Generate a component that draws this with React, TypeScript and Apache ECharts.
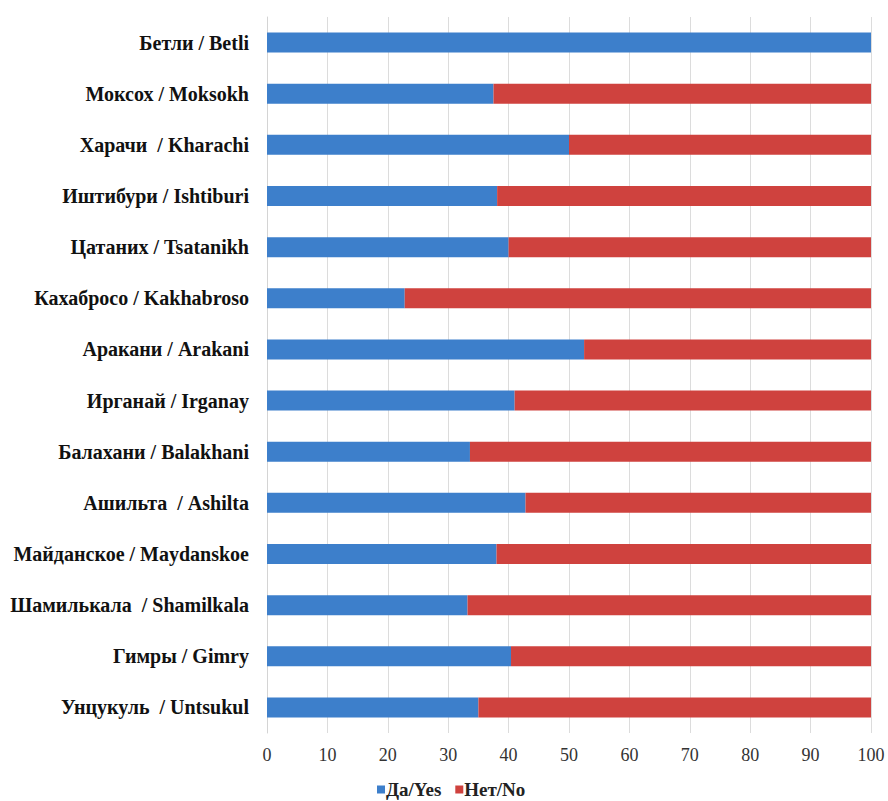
import React, { useEffect, useRef } from "react";
import * as echarts from "echarts";

const categories = [
  "Бетли / Betli",
  "Моксох / Moksokh",
  "Харачи  / Kharachi",
  "Иштибури / Ishtiburi",
  "Цатаних / Tsatanikh",
  "Кахабросо / Kakhabroso",
  "Аракани / Arakani",
  "Ирганай / Irganay",
  "Балахани / Balakhani",
  "Ашильта  / Ashilta",
  "Майданское / Maydanskoe",
  "Шамилькала  / Shamilkala",
  "Гимры / Gimry",
  "Унцукуль  / Untsukul",
];

const yesValues = [100, 37.5, 50, 38.1, 40, 22.8, 52.5, 41, 33.6, 42.8, 38, 33.2, 40.4, 35];
const noValues = [0, 62.5, 50, 61.9, 60, 77.2, 47.5, 59, 66.4, 57.2, 62, 66.8, 59.6, 65];

const seriesNames = ["Да/Yes", "Нет/No"];
const xTicks = { min: 0, max: 100, interval: 10 };

export default function App() {
  const ref = useRef<HTMLDivElement>(null);
  useEffect(() => {
    if (!ref.current) return;
    const chart = echarts.init(ref.current, null, { renderer: "svg" });
    const font = "Liberation Serif";
    chart.setOption({
      animation: false,
      backgroundColor: "#ffffff",
      grid: { left: 267, right: 17, top: 17, bottom: 68, containLabel: false },
      legend: {
        data: seriesNames,
        left: 377,
        top: 780,
        padding: 0,
        icon: "rect",
        itemWidth: 8,
        itemHeight: 8,
        itemGap: 14,
        textStyle: { fontFamily: font, fontWeight: "bold", fontSize: 19, color: "#222222", padding: [0, 0, 0, -4] },
      },
      xAxis: {
        type: "value",
        min: xTicks.min,
        max: xTicks.max,
        interval: xTicks.interval,
        axisLine: { show: false },
        axisTick: { show: false },
        splitLine: { show: true, lineStyle: { color: "#dcdcdc", width: 1 } },
        axisLabel: { fontFamily: font, fontSize: 18, color: "#333333", margin: 13 },
      },
      yAxis: {
        type: "category",
        data: categories,
        inverse: true,
        axisLine: { show: true, lineStyle: { color: "#d4d4d4", width: 1 } },
        axisTick: { show: false },
        axisLabel: { fontFamily: font, fontWeight: "bold", fontSize: 20, color: "#111111", margin: 18 },
      },
      series: [
        {
          name: seriesNames[0],
          type: "bar",
          stack: "total",
          data: yesValues,
          barWidth: 20,
          itemStyle: { color: "#3d7fcb" },
        },
        {
          name: seriesNames[1],
          type: "bar",
          stack: "total",
          data: noValues,
          barWidth: 20,
          itemStyle: { color: "#cf423e" },
        },
      ],
    });
    return () => chart.dispose();
  }, []);
  return (
    <div
      ref={ref}
      style={{ position: "fixed", left: 0, top: 0, width: 888, height: 801, background: "#fff" }}
    />
  );
}
